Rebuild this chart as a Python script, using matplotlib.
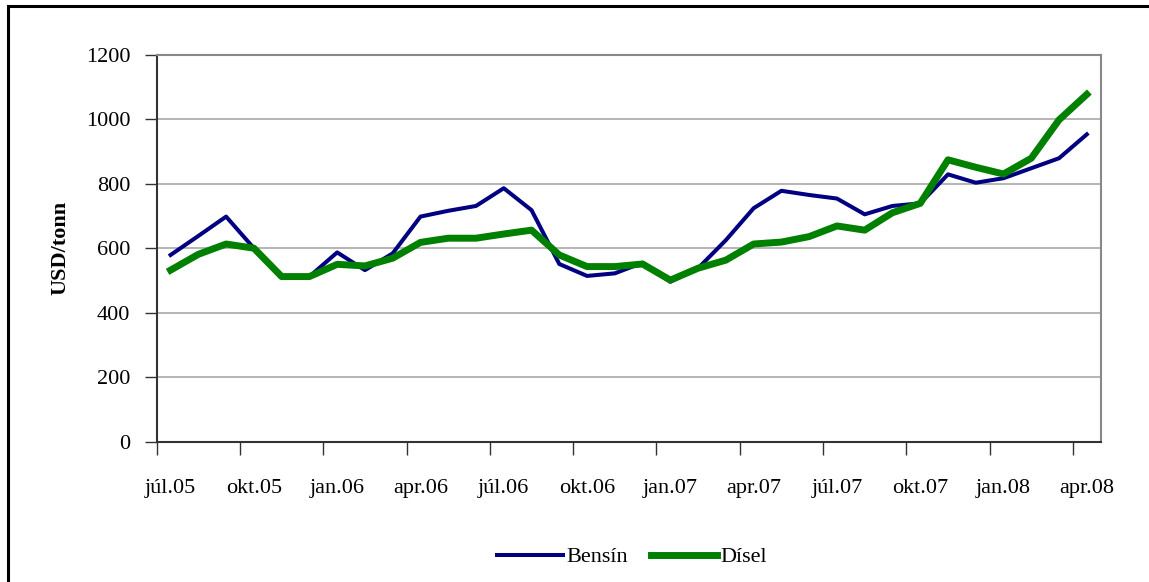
import matplotlib.pyplot as plt
from matplotlib.patches import Rectangle

plt.rcParams['font.family'] = ['Liberation Serif', 'DejaVu Serif']

months = ['júl.05', 'ágú.05', 'sep.05', 'okt.05', 'nóv.05', 'des.05',
          'jan.06', 'feb.06', 'mar.06', 'apr.06', 'maí.06', 'jún.06',
          'júl.06', 'ágú.06', 'sep.06', 'okt.06', 'nóv.06', 'des.06',
          'jan.07', 'feb.07', 'mar.07', 'apr.07', 'maí.07', 'jún.07',
          'júl.07', 'ágú.07', 'sep.07', 'okt.07', 'nóv.07', 'des.07',
          'jan.08', 'feb.08', 'mar.08', 'apr.08']

bensin = [579, 638, 698, 600, 512, 512, 587, 532, 584, 698, 716, 731,
          786, 718, 551, 514, 522, 555, 496, 538, 625, 724, 778, 765,
          754, 705, 731, 739, 829, 803, 817, 848, 879, 953]

disel = [532, 581, 613, 600, 512, 512, 550, 545, 569, 618, 631, 631,
         644, 656, 579, 543, 543, 551, 501, 538, 563, 613, 619, 636,
         669, 656, 710, 739, 874, 851, 830, 879, 998, 1077]

W, H = 1149, 582
fig = plt.figure(figsize=(W / 100, H / 100), dpi=100)
ax = fig.add_axes([156.7 / W, 1 - 441.7 / H, 944 / W, 387 / H])

x = list(range(len(months)))
ax.plot(x, bensin, color='#000080', lw=2.9, label='Bensín', zorder=3)
ax.plot(x, disel, color='#008000', lw=5, label='Dísel', zorder=3)

ax.set_xlim(-0.5, len(months) - 0.5)
ax.set_ylim(0, 1200)
ax.set_yticks(range(0, 1201, 200))
ax.yaxis.grid(True, color='#a8a8a8', lw=1.2)
ax.set_axisbelow(True)

# labels every third month, tick marks between categories
ax.set_xticks(x[::3])
ax.set_xticklabels(months[::3])
ax.tick_params(axis='x', length=0, pad=27, labelsize=16)
ax.set_xticks([i - 0.5 for i in x[::3]], minor=True)
ax.tick_params(axis='x', which='minor', length=9, width=1, color='#333333')
ax.tick_params(axis='y', length=9, width=1, color='#333333', labelsize=16, pad=10)

for s in ['left', 'bottom']:
    ax.spines[s].set_color('#333333')
    ax.spines[s].set_linewidth(1.5)
for s in ['top', 'right']:
    ax.spines[s].set_color('#888888')
    ax.spines[s].set_linewidth(1.5)

ax.set_ylabel('USD/tonn', fontsize=16, fontweight='bold', labelpad=11)

fig.legend(loc='center', bbox_to_anchor=(632 / W, 1 - 557 / H), ncol=2,
           frameon=False, fontsize=16, handlelength=3.0, handletextpad=0.15,
           columnspacing=1.0)

fig.patches.append(Rectangle((8 / W, -0.1), 1.2, 1.1 - 6 / H, transform=fig.transFigure,
                             fill=False, edgecolor='black', lw=2.2))

fig.savefig('out.png', dpi=100)
